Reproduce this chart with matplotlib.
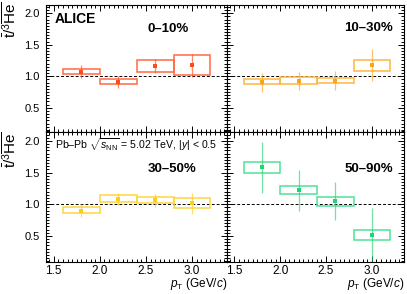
import matplotlib
matplotlib.use("Agg")
import matplotlib.pyplot as plt
from matplotlib.patches import Rectangle
from matplotlib.ticker import MultipleLocator
import numpy as np

plt.rcParams['font.family'] = ['Liberation Sans', 'DejaVu Sans']
plt.rcParams['mathtext.fontset'] = 'custom'
plt.rcParams['mathtext.rm'] = 'Liberation Sans'
plt.rcParams['mathtext.it'] = 'Liberation Sans:italic'
plt.rcParams['mathtext.bf'] = 'Liberation Sans:bold'

# ---- data ----
pt_centers = [1.8, 2.2, 2.6, 3.0]
pt_halfwidth = 0.2
centralities = ["0–10%", "10–30%", "30–50%", "50–90%"]
colors = ["#ff4a1c", "#ffa21a", "#ffcc1a", "#1fd672"]
box_colors = ["#ff6a44", "#ffb640", "#ffd640", "#4fe196"]

ratio_0_10 = [1.075, 0.91, 1.16, 1.175]
stat_0_10 = [0.10, 0.09, 0.11, 0.18]
syst_lo_0_10 = [1.03, 0.88, 1.06, 1.02]
syst_hi_0_10 = [1.12, 0.95, 1.25, 1.33]

ratio_10_30 = [0.905, 0.93, 0.93, 1.18]
stat_10_30 = [0.15, 0.14, 0.15, 0.26]
syst_lo_10_30 = [0.87, 0.87, 0.89, 1.09]
syst_hi_10_30 = [0.95, 0.985, 0.975, 1.26]

ratio_30_50 = [0.90, 1.085, 1.06, 1.015]
stat_30_50 = [0.10, 0.10, 0.10, 0.17]
syst_lo_30_50 = [0.86, 1.03, 1.015, 0.94]
syst_hi_30_50 = [0.95, 1.14, 1.115, 1.095]

ratio_50_90 = [1.585, 1.22, 1.05, 0.52]
stat_50_90 = [0.40, 0.32, 0.30, 0.42]
syst_lo_50_90 = [1.49, 1.16, 0.97, 0.44]
syst_hi_50_90 = [1.67, 1.285, 1.11, 0.60]

series = [
    (ratio_0_10, stat_0_10, syst_lo_0_10, syst_hi_0_10),
    (ratio_10_30, stat_10_30, syst_lo_10_30, syst_hi_10_30),
    (ratio_30_50, stat_30_50, syst_lo_30_50, syst_hi_30_50),
    (ratio_50_90, stat_50_90, syst_lo_50_90, syst_hi_50_90),
]

W, H = 407, 294
fig = plt.figure(figsize=(W / 100, H / 100), dpi=100)

xl, xm, xr = 45.5, 227, 404
yt, ym, yb = 5, 131.5, 262

def fx(px):
    return px / W

def fy(py):
    return 1 - py / H

rects = [
    (xl, xm, yt, ym), (xm, xr, yt, ym),
    (xl, xm, ym, yb), (xm, xr, ym, yb),
]
xlims = [(1.41, 3.38), (1.42, 3.35), (1.41, 3.38), (1.42, 3.35)]
ylims = [(0.124, 2.13), (0.124, 2.13), (0.088, 2.15), (0.088, 2.15)]

axes = []
for i, (x0, x1, y0, y1) in enumerate(rects):
    ax = fig.add_axes([fx(x0), fy(y1), fx(x1) - fx(x0), fy(y0) - fy(y1)])
    axes.append(ax)
    ax.set_xlim(*xlims[i])
    ax.set_ylim(*ylims[i])
    ax.xaxis.set_major_locator(MultipleLocator(0.5))
    ax.xaxis.set_minor_locator(MultipleLocator(0.05))
    ax.yaxis.set_major_locator(MultipleLocator(0.5))
    ax.yaxis.set_minor_locator(MultipleLocator(0.05))
    ax.tick_params(which='both', direction='in', top=True, right=True,
                   width=0.7, color='black')
    ax.tick_params(which='major', length=4.5)
    ax.tick_params(which='minor', length=2.2)
    ax.tick_params(axis='x', labelsize=8.5, pad=2.5)
    ax.tick_params(axis='y', labelsize=8, pad=4)
    for s in ax.spines.values():
        s.set_linewidth(0.8)
    ax.axhline(1.0, color='black', lw=0.7, ls=(0, (3, 2)), zorder=1)

    vals, stat, lo, hi = series[i]
    c = colors[i]
    for xc, lo_v, hi_v in zip(pt_centers, lo, hi):
        ax.add_patch(Rectangle((xc - pt_halfwidth, lo_v), 2 * pt_halfwidth,
                               hi_v - lo_v, fill=False, edgecolor=box_colors[i],
                               lw=1.1, zorder=2))
    ax.errorbar(pt_centers, vals, yerr=stat, fmt='none', ecolor=c,
                elinewidth=0.9, capsize=0, zorder=3, alpha=0.65)
    ax.plot(pt_centers, vals, 's', color=c, ms=2.4, mew=0, zorder=4)

    if i in (1, 3):
        ax.tick_params(axis='y', labelleft=False)
    if i in (0, 1):
        ax.tick_params(axis='x', labelbottom=False)

# texts
fig.text(fx(55), fy(12), "ALICE", fontsize=10, fontweight='bold',
         ha='left', va='top')
cent_pos = [(168, 29), (368.5, 28), (172, 169.5), (369, 169)]
for (px, py), lab in zip(cent_pos, centralities):
    fig.text(fx(px), fy(py), lab, fontsize=9.5, fontweight='bold',
             ha='center', va='center')
fig.text(fx(55), fy(145), r"Pb–Pb $\sqrt{s_{\rm NN}}$ = 5.02 TeV, $|y|$ < 0.5",
         fontsize=7.6, ha='left', va='center')

ylab = r"$\bar{\rm t}/^{3}\overline{\rm He}$"
fig.text(fx(11), fy(2), ylab, fontsize=11, rotation=90, ha='center', va='top')
fig.text(fx(11), fy(132), ylab, fontsize=11, rotation=90, ha='center', va='top')

xlab = r"$p_{\rm T}$ (GeV/$c$)"
fig.text(fx(227), fy(284), xlab, fontsize=8.5, ha='right', va='center')
fig.text(fx(404), fy(284), xlab, fontsize=8.5, ha='right', va='center')

fig.savefig("out.png", dpi=100)
